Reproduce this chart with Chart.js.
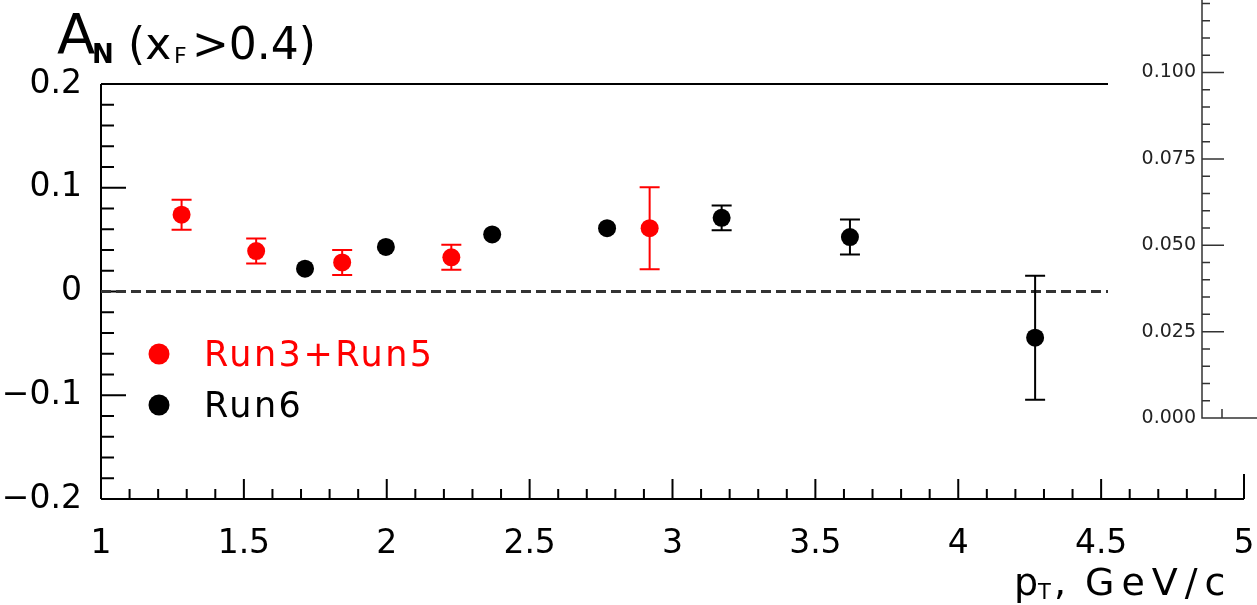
<!DOCTYPE html>
<html>
<head>
<meta charset="utf-8">
<script src="https://cdn.jsdelivr.net/npm/chart.js@4.4.0/dist/chart.umd.min.js"></script>
<style>
  html, body { margin: 0; padding: 0; background: #fff; overflow: hidden; }
  #wrap { position: relative; width: 1257px; height: 605px; }
  #main { position: absolute; left: 0; top: 0; }
  #inset { position: absolute; left: 1108px; top: 0; background: #fff; }
</style>
</head>
<body>
<div id="wrap">
  <canvas id="main" width="1257" height="605"></canvas>
  <canvas id="inset" width="149" height="432"></canvas>
</div>
<script>
// -------------------------------
// Data
// -------------------------------
const run35Pt  = [1.282, 1.543, 1.844, 2.226, 2.920];
const run35An  = [0.074, 0.039, 0.028, 0.033, 0.061];
const run35Err = [0.0144, 0.012, 0.012, 0.012, 0.0395];

const run6Pt  = [1.714, 1.997, 2.369, 2.771, 3.172, 3.621, 4.269];
const run6An  = [0.022, 0.043, 0.055, 0.061, 0.071, 0.0525, -0.0445];
const run6Err = [0.005, 0.005, 0.005, 0.005, 0.012, 0.0168, 0.0598];

const xTicks = [1, 1.5, 2, 2.5, 3, 3.5, 4, 4.5, 5];
const yTicks = [-0.2, -0.1, 0, 0.1, 0.2];
const yTickLabels = ['\u22120.2', '\u22120.1', '0', '0.1', '0.2'];
const insetTicks = [0, 0.025, 0.05, 0.075, 0.1];

const FONT = "'DejaVu Sans', sans-serif";
const MARKER = 9;
const toPts = (xs, ys) => xs.map((x, i) => ({ x, y: ys[i] }));

// -------------------------------
// ROOT-like frame, ticks, error bars, legend, titles
// -------------------------------
const rootFrame = {
  id: 'rootFrame',
  beforeDatasetsDraw(chart) {
    const { ctx, chartArea: ca, scales: { x, y } } = chart;
    ctx.save();
    ctx.strokeStyle = '#000';
    ctx.lineWidth = 2;
    ctx.beginPath();
    ctx.moveTo(ca.left, ca.top); ctx.lineTo(ca.right, ca.top);
    ctx.moveTo(ca.left, ca.top); ctx.lineTo(ca.left, ca.bottom);
    ctx.moveTo(ca.left, ca.bottom); ctx.lineTo(ca.right, ca.bottom);
    // y ticks, every 0.02
    for (let i = -10; i <= 10; i++) {
      const py = y.getPixelForValue(i * 0.02);
      const len = i % 5 === 0 ? 25 : 13;
      ctx.moveTo(ca.left, py); ctx.lineTo(ca.left + len, py);
    }
    // x ticks, every 0.1
    for (let i = 10; i <= 50; i++) {
      const px = x.getPixelForValue(i / 10);
      const len = i === 50 ? 25 : (i % 5 === 0 ? 20 : 10);
      ctx.moveTo(px, ca.bottom); ctx.lineTo(px, ca.bottom - len);
    }
    ctx.stroke();

    // dashed zero line
    ctx.strokeStyle = '#333';
    ctx.lineWidth = 3;
    ctx.setLineDash([10, 5]);
    ctx.beginPath();
    const y0 = y.getPixelForValue(0);
    ctx.moveTo(ca.left, y0); ctx.lineTo(ca.right, y0);
    ctx.stroke();
    ctx.setLineDash([]);

    // error bars (hidden when shorter than the marker, like ROOT)
    chart.data.datasets.forEach(ds => {
      ctx.strokeStyle = ds.backgroundColor;
      ctx.lineWidth = 2;
      ctx.beginPath();
      ds.data.forEach((p, i) => {
        const e = ds.errors[i];
        const px = x.getPixelForValue(p.x);
        const py = y.getPixelForValue(p.y);
        const top = y.getPixelForValue(p.y + e);
        const bot = y.getPixelForValue(p.y - e);
        if (py - top <= MARKER) return;
        ctx.moveTo(px, top); ctx.lineTo(px, bot);
        ctx.moveTo(px - 10, top); ctx.lineTo(px + 10, top);
        ctx.moveTo(px - 10, bot); ctx.lineTo(px + 10, bot);
      });
      ctx.stroke();
    });
    ctx.restore();
  },
  afterDraw(chart) {
    const ctx = chart.ctx;
    ctx.save();
    ctx.textBaseline = 'alphabetic';
    ctx.textAlign = 'left';

    // legend
    chart.data.datasets.forEach((ds, i) => {
      const cy = 354 + i * 51;
      ctx.fillStyle = ds.backgroundColor;
      ctx.beginPath();
      ctx.arc(159, cy, 10.5, 0, Math.PI * 2);
      ctx.fill();
      ctx.font = '35px ' + FONT;
      ctx.letterSpacing = '2.5px';
      ctx.fillText(ds.label, 204, cy + 12);
    });

    // y title: A_N (x_F>0.4)
    ctx.fillStyle = '#000';
    ctx.letterSpacing = '0px';
    ctx.font = '56px ' + FONT;
    ctx.fillText('A', 57, 53);
    ctx.font = 'bold 26px ' + FONT;
    ctx.fillText('N', 92, 63);
    ctx.font = '44px ' + FONT;
    ctx.fillText('(x', 128, 59);
    ctx.font = '22px ' + FONT;
    ctx.fillText('F', 174, 63);
    ctx.font = '44px ' + FONT;
    ctx.fillText('>0.4)', 192, 59);

    // x title: p_T, GeV/c
    ctx.font = '38px ' + FONT;
    ctx.fillText('p', 1014, 595);
    ctx.font = '21px ' + FONT;
    ctx.fillText('T', 1038, 599);
    ctx.font = '38px ' + FONT;
    ctx.fillText(',', 1054, 595);
    ctx.letterSpacing = '7px';
    ctx.fillText('GeV/c', 1085, 595);
    ctx.restore();
  }
};

new Chart(document.getElementById('main'), {
  type: 'scatter',
  data: {
    datasets: [
      {
        label: 'Run3+Run5',
        data: toPts(run35Pt, run35An),
        errors: run35Err,
        backgroundColor: '#ff0000',
        borderWidth: 0,
        pointRadius: MARKER
      },
      {
        label: 'Run6',
        data: toPts(run6Pt, run6An),
        errors: run6Err,
        backgroundColor: '#000000',
        borderWidth: 0,
        pointRadius: MARKER
      }
    ]
  },
  options: {
    responsive: false,
    animation: false,
    events: [],
    layout: { padding: { top: 84, right: 13, left: 0, bottom: 0 } },
    plugins: { legend: { display: false }, tooltip: { enabled: false } },
    scales: {
      x: {
        type: 'linear', min: 1, max: 5,
        grid: { display: false, drawTicks: false },
        border: { display: false },
        afterBuildTicks: s => { s.ticks = xTicks.map(v => ({ value: v })); },
        afterFit: s => { s.height = 106; s.paddingLeft = 0; s.paddingRight = 0; },
        ticks: {
          color: '#000', padding: 26, maxRotation: 0,
          font: { family: FONT, size: 33 },
          callback: v => String(v)
        }
      },
      y: {
        type: 'linear', min: -0.2, max: 0.2,
        grid: { display: false, drawTicks: false },
        border: { display: false },
        afterBuildTicks: s => { s.ticks = yTicks.map(v => ({ value: v })); },
        afterFit: s => { s.width = 101; s.paddingTop = 0; s.paddingBottom = 0; },
        ticks: {
          color: '#000', padding: 19,
          font: { family: FONT, size: 33 },
          callback: (v, i) => yTickLabels[i]
        }
      }
    }
  },
  plugins: [rootFrame]
});

// -------------------------------
// Inset axis on the right
// -------------------------------
const insetFrame = {
  id: 'insetFrame',
  beforeDatasetsDraw(chart) {
    const { ctx, chartArea: ca, scales: { x, y } } = chart;
    ctx.save();
    ctx.strokeStyle = '#333';
    ctx.lineWidth = 1.5;
    ctx.beginPath();
    ctx.moveTo(ca.left, 0); ctx.lineTo(ca.left, ca.bottom);
    ctx.lineTo(ca.right, ca.bottom);
    for (let i = 0; i <= 24; i++) {
      const py = y.getPixelForValue(i * 0.005);
      const len = i % 5 === 0 ? 22 : 8;
      ctx.moveTo(ca.left, py); ctx.lineTo(ca.left + len, py);
    }
    const px = x.getPixelForValue(1);
    ctx.moveTo(px, ca.bottom); ctx.lineTo(px, ca.bottom - 9);
    ctx.stroke();
    ctx.restore();
  }
};

new Chart(document.getElementById('inset'), {
  type: 'scatter',
  data: { datasets: [] },
  options: {
    responsive: false,
    animation: false,
    events: [],
    layout: { padding: 0 },
    plugins: { legend: { display: false }, tooltip: { enabled: false } },
    scales: {
      x: {
        type: 'linear', min: 0, max: 2.75,
        grid: { display: false, drawTicks: false },
        border: { display: false },
        ticks: { display: false },
        afterFit: s => { s.height = 14; s.paddingLeft = 0; s.paddingRight = 0; }
      },
      y: {
        type: 'linear', min: 0, max: 0.121,
        grid: { display: false, drawTicks: false },
        border: { display: false },
        afterBuildTicks: s => { s.ticks = insetTicks.map(v => ({ value: v })); },
        afterFit: s => { s.width = 94; s.paddingTop = 0; s.paddingBottom = 0; },
        ticks: {
          color: '#222', padding: 6,
          font: { family: FONT, size: 19 },
          callback: v => v.toFixed(3)
        }
      }
    }
  },
  plugins: [insetFrame]
});
</script>
</body>
</html>
